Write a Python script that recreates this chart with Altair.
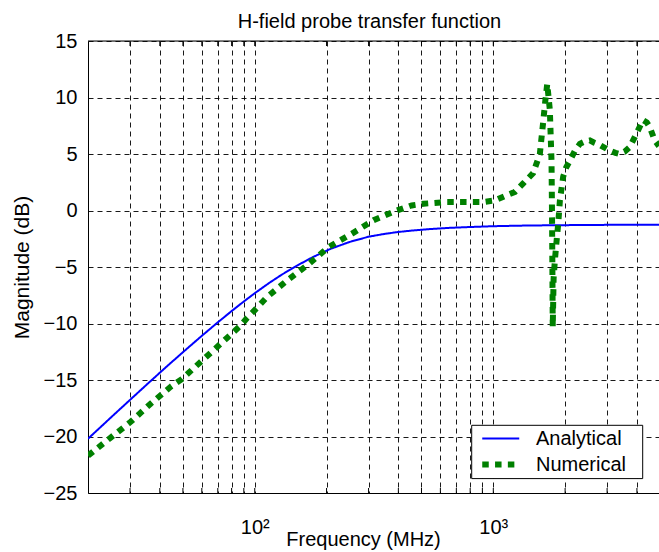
import altair as alt
import pandas as pd

# ---- data ----
freq_analytical = [20, 25, 30, 36, 43, 50, 60, 70, 80, 90, 100, 115, 130, 150, 175, 208, 250,
                   300, 350, 400, 460, 544, 650, 800, 1000, 1300, 1700, 2200, 3000, 4000, 4950]
db_analytical = [-20.2, -18.3, -16.76, -15.23, -13.76, -12.54, -11.09, -9.9, -8.9, -8.05, -7.32,
                 -6.41, -5.67, -4.89, -4.13, -3.39, -2.78, -2.32, -2.07, -1.9, -1.77, -1.64,
                 -1.54, -1.46, -1.39, -1.34, -1.31, -1.29, -1.27, -1.26, -1.26]

freq_numerical = [20, 24.9, 30.2, 36.6, 44.4, 49.6, 59.3, 71.9, 87.1, 93,
                  102.3, 112.7, 136.6, 168.3, 204, 255.8, 314.8, 394, 455, 510,
                  638, 725, 812, 908, 1016, 1137, 1233, 1335, 1469, 1567,
                  1618, 1650, 1683, 1726, 1754, 1762, 1768, 1775, 1790, 1812,
                  1840, 1871, 1902, 1963, 2020, 2094, 2200, 2306, 2420, 2539,
                  2650, 2795, 3077, 3250, 3388, 3550, 3730, 3981, 4242, 4400,
                  4524, 4750, 4950]
db_numerical = [-21.7, -20.1, -18.7, -17.1, -15.6, -14.9, -13.4, -11.8, -10.2, -9.5,
                -8.6, -7.65, -6.2, -4.75, -3.23, -2.04, -0.86, 0.0, 0.45, 0.6,
                0.75, 0.75, 0.75, 0.75, 0.9, 1.35, 1.65, 2.4, 3.3, 5.0,
                7.8, 9.6, 11.2, 8.9, 4.4, 0.0, -4.4, -10.3, -6.0, -4.4,
                -2.8, -1.2, 0.9, 3.0, 3.8, 4.4, 5.3, 5.9, 6.1, 6.2,
                6.0, 5.8, 5.3, 5.1, 5.0, 5.2, 5.6, 6.8, 8.0, 7.8,
                7.4, 6.2, 5.7]

series_names = ["Analytical", "Numerical"]
x_grid_values = [30, 40, 50, 60, 70, 80, 90, 100, 200, 300, 400, 500, 600, 700, 800, 900,
                 1000, 2000, 3000, 4000]
y_tick_values = [-25, -20, -15, -10, -5, 0, 5, 10, 15]

FONT = "Liberation Sans"
W, H = 571, 452

df = pd.concat([
    pd.DataFrame({"f": freq_analytical, "db": db_analytical, "series": series_names[0]}),
    pd.DataFrame({"f": freq_numerical, "db": db_numerical, "series": series_names[1]}),
])
ticks_df = pd.DataFrame({"f": x_grid_values})
one_row = pd.DataFrame({"k": [0]})

xscale = alt.Scale(type="log", domain=[20, 4950], nice=False)
yscale = alt.Scale(domain=[-25, 15], nice=False, zero=False)

lines = alt.Chart(df).mark_line(clip=True, strokeCap="butt", strokeJoin="miter").encode(
    x=alt.X("f:Q", scale=xscale, title="Frequency (MHz)",
            axis=alt.Axis(values=x_grid_values,
                          labelExpr="datum.value == 100 ? '10²' : (datum.value == 1000 ? '10³' : '')",
                          labelOverlap=False, labelFlush=False, ticks=False, tickSize=0,
                          labelPadding=40, labelBaseline="alphabetic",
                          labelFontSize=20, labelFont=FONT, labelColor="#000",
                          titleFontSize=20, titleFont=FONT, titleFontWeight="normal", titleColor="#000",
                          titleX=275, titleY=52, titleBaseline="alphabetic", titleAlign="center",
                          grid=True, gridColor="#000", gridDash=[5, 4], gridWidth=1, gridOpacity=0.9,
                          domain=True, domainColor="#000", domainWidth=1)),
    y=alt.Y("db:Q", scale=yscale, title="Magnitude (dB)",
            axis=alt.Axis(values=y_tick_values, ticks=False, tickSize=0, labelPadding=11,
                          labelFontSize=20, labelFont=FONT, labelColor="#000",
                          titleFontSize=21, titleFont=FONT, titleFontWeight="normal", titleColor="#000",
                          titleAngle=270, titleX=-66, titleY=226, titleBaseline="middle",
                          titleAlign="center",
                          grid=True, gridColor="#000", gridDash=[5, 4], gridWidth=1, gridOpacity=0.9,
                          domain=True, domainColor="#000", domainWidth=1)),
    color=alt.Color("series:N", scale=alt.Scale(domain=series_names, range=["#0000ff", "#008000"]),
                    legend=alt.Legend(title=None, orient="none", legendX=391, legendY=387,
                                      symbolType="M-1,0H3", symbolSize=342, symbolOffset=0,
                                      labelFontSize=20, labelFont=FONT, labelColor="#000",
                                      labelOffset=32, padding=0, rowPadding=3)),
    strokeDash=alt.StrokeDash("series:N", scale=alt.Scale(domain=series_names,
                                                          range=[[1, 0], [6.5, 6.3]])),
    strokeWidth=alt.StrokeWidth("series:N", scale=alt.Scale(domain=series_names, range=[2, 6])),
)

bottom_ticks = alt.Chart(ticks_df).mark_rule(color="#000", strokeWidth=1).encode(
    x=alt.X("f:Q", scale=xscale), y=alt.value(H - 5), y2=alt.value(H))
top_ticks = alt.Chart(ticks_df).mark_rule(color="#000", strokeWidth=1).encode(
    x=alt.X("f:Q", scale=xscale), y=alt.value(0), y2=alt.value(5))
top_border = alt.Chart(one_row).mark_rule(color="#000", strokeWidth=1).encode(
    x=alt.value(0), x2=alt.value(W + 2), y=alt.value(0))
legend_frame = alt.Chart(one_row).mark_rect(fill="#ffffff", stroke="#000", strokeWidth=1).encode(
    x=alt.value(383.7), x2=alt.value(554.7), y=alt.value(384.3), y2=alt.value(437.6))

chart = alt.layer(bottom_ticks, top_ticks, top_border, legend_frame, lines).properties(
    width=W, height=H,
    title=alt.TitleParams("H-field probe transfer function", fontSize=20, font=FONT,
                          fontWeight="normal", color="#000", anchor="middle", frame="group",
                          baseline="alphabetic", offset=14, dx=-4, dy=31),
    autosize=alt.AutoSizeParams(type="none"),
    padding={"left": 88, "top": 41, "right": 0, "bottom": 59},
).configure_view(stroke=None).configure(background="#ffffff")

chart.save("out.html", embed_options={"renderer": "svg", "actions": False})
